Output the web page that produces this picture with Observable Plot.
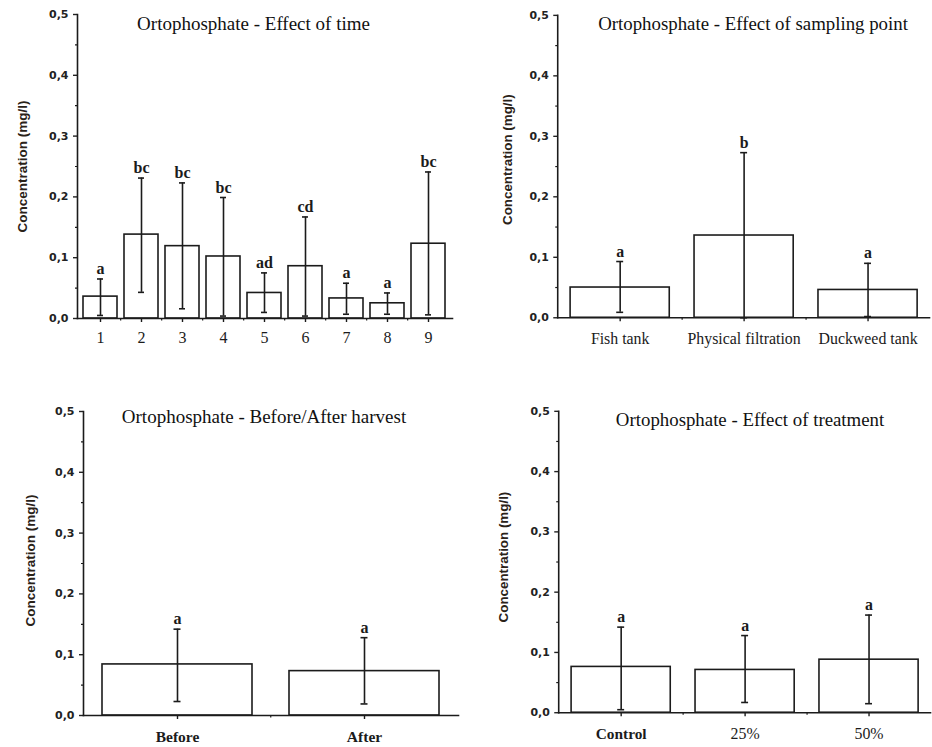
<!DOCTYPE html>
<html><head><meta charset="utf-8">
<script src="https://cdn.jsdelivr.net/npm/d3@7"></script>
<script src="https://cdn.jsdelivr.net/npm/@observablehq/plot@0.6"></script>
<style>
html,body{margin:0;padding:0;background:#fff;overflow:hidden;width:932px;height:747px;}
#root{position:relative;width:932px;height:747px;overflow:hidden;background:#fff;}
.panel{position:absolute;}
</style></head><body><div id="root"></div>
<script>
// ---- shared axis data ----
const yTicks = [0, 0.1, 0.2, 0.3, 0.4, 0.5];
const yMinorTicks = [0.05, 0.15, 0.25, 0.35, 0.45];
const yLabel = "Concentration (mg/l)";

// ---- Panel 1: effect of time ----
const timeTitle = "Ortophosphate - Effect of time";
const timeCats = ["1", "2", "3", "4", "5", "6", "7", "8", "9"];
const timeMeans = [0.036, 0.138, 0.119, 0.102, 0.042, 0.086, 0.033, 0.025, 0.123];
const timeLow = [0.005, 0.043, 0.016, 0.004, 0.010, 0.004, 0.007, 0.007, 0.006];
const timeHigh = [0.065, 0.231, 0.223, 0.199, 0.075, 0.167, 0.058, 0.042, 0.241];
const timeLetters = ["a", "bc", "bc", "bc", "ad", "cd", "a", "a", "bc"];

// ---- Panel 2: effect of sampling point ----
const pointTitle = "Ortophosphate - Effect of sampling point";
const pointCats = ["Fish tank", "Physical filtration", "Duckweed tank"];
const pointMeans = [0.050, 0.136, 0.046];
const pointLow = [0.009, 0.000, 0.002];
const pointHigh = [0.093, 0.273, 0.090];
const pointLetters = ["a", "b", "a"];

// ---- Panel 3: before / after harvest ----
const harvestTitle = "Ortophosphate - Before/After harvest";
const harvestCats = ["Before", "After"];
const harvestMeans = [0.084, 0.073];
const harvestLow = [0.023, 0.019];
const harvestHigh = [0.142, 0.128];
const harvestLetters = ["a", "a"];

// ---- Panel 4: effect of treatment ----
const treatTitle = "Ortophosphate - Effect of treatment";
const treatCats = ["Control", "25%", "50%"];
const treatMeans = [0.076, 0.071, 0.088];
const treatLow = [0.005, 0.017, 0.015];
const treatHigh = [0.142, 0.128, 0.162];
const treatLetters = ["a", "a", "a"];

const ink = "#1b1b1b";
const serif = "'Liberation Serif', 'Times New Roman', serif";
const sans = "'DejaVu Sans', Verdana, sans-serif";
const commaFmt = d => d3.format(".1f")(d).replace(".", ",");

function makePanel(p) {
  const rows = p.cats.map((c, i) => ({cat: c, mean: p.means[i], lo: p.low[i], hi: p.high[i], letter: p.letters[i]}));
  const range = p.width - p.marginLeft - p.marginRight;
  const step = range / p.cats.length;
  const bw = step * (1 - p.padInner);
  const capInset = (bw - 7) / 2;
  const boldCats = p.boldCats || [];
  const plainCats = p.cats.filter(c => !boldCats.includes(c));
  const xLabelOpts = {tickSize: 4, tickPadding: p.xPad, fontFamily: serif, fontSize: 16, label: null, color: ink, strokeWidth: 1.4};
  const svg = Plot.plot({
    width: p.width, height: p.height,
    marginLeft: p.marginLeft, marginRight: p.marginRight, marginTop: p.marginTop, marginBottom: p.marginBottom,
    style: {background: "transparent", overflow: "visible", color: ink},
    x: {domain: p.cats, paddingInner: p.padInner, paddingOuter: p.padInner / 2},
    y: {domain: [0, 0.5]},
    marks: [
      Plot.barY(rows, {x: "cat", y: "mean", fill: "white", stroke: ink, strokeWidth: 1.6}),
      Plot.ruleX(rows, {x: "cat", y1: "lo", y2: "hi", stroke: ink, strokeWidth: 1.6}),
      Plot.tickY(rows, {x: "cat", y: "lo", stroke: ink, strokeWidth: 1.6, insetLeft: capInset, insetRight: capInset}),
      Plot.tickY(rows, {x: "cat", y: "hi", stroke: ink, strokeWidth: 1.6, insetLeft: capInset, insetRight: capInset}),
      Plot.text(rows, {x: "cat", y: "hi", text: "letter", lineAnchor: "bottom", dy: -5, fontFamily: serif, fontWeight: "bold", fontSize: 16, fill: ink}),
      Plot.axisY(yTicks, {tickSize: 4, tickPadding: 5, tickFormat: commaFmt, fontFamily: sans, fontWeight: "bold", fontSize: 11, label: null, color: "#222", strokeWidth: 1.4}),
      Plot.axisY(yMinorTicks, {tickSize: 2, tickFormat: () => "", label: null, color: ink, strokeWidth: 1.2}),
      boldCats.length ? Plot.axisX(boldCats, {...xLabelOpts, fontWeight: "bold", fontSize: 15.5}) : null,
      plainCats.length ? Plot.axisX(plainCats, {...xLabelOpts, fontWeight: "normal"}) : null,
      Plot.axisX(p.cats.slice(1), {tickSize: 2.5, tickFormat: () => "", dx: -step / 2, label: null, color: ink, strokeWidth: 1.2}),
      Plot.frame({anchor: "left", stroke: ink, strokeWidth: 1.6}),
      Plot.frame({anchor: "bottom", stroke: ink, strokeWidth: 1.6}),
      Plot.text([p.title], {frameAnchor: "top", lineAnchor: "bottom", textAnchor: "middle", dx: p.titleDx, dy: p.titleDy, fontFamily: serif, fontSize: 19, fill: "#111"}),
      Plot.text([yLabel], {frameAnchor: "left", textAnchor: "middle", lineAnchor: "middle", rotate: -90, dx: p.yLabelDx, dy: p.yLabelDy, fontFamily: "'Liberation Sans', Arial, sans-serif", fontWeight: "bold", fontSize: 13.5, fill: "#2a2218"})
    ]
  });
  const div = document.createElement("div");
  div.className = "panel";
  div.style.left = p.left + "px";
  div.style.top = p.top + "px";
  div.appendChild(svg);
  document.getElementById("root").appendChild(div);
}

makePanel({
  cats: timeCats, means: timeMeans, low: timeLow, high: timeHigh, letters: timeLetters, title: timeTitle,
  left: 0, top: 0, width: 466, height: 350,
  marginLeft: 77, marginRight: 14, marginTop: 14, marginBottom: 32,
  padInner: 0.16, xPad: 9, titleDx: -11.5, titleDy: 15, yLabelDx: -55, yLabelDy: 0
});
makePanel({
  cats: pointCats, means: pointMeans, low: pointLow, high: pointHigh, letters: pointLetters, title: pointTitle,
  left: 466, top: 0, width: 470, height: 370,
  marginLeft: 92, marginRight: 3, marginTop: 15, marginBottom: 50,
  padInner: 0.2, xPad: 11, titleDx: 9.5, titleDy: 15, yLabelDx: -50, yLabelDy: -7
});
makePanel({
  cats: harvestCats, means: harvestMeans, low: harvestLow, high: harvestHigh, letters: harvestLetters, title: harvestTitle,
  boldCats: ["Before", "After"],
  left: 0, top: 390, width: 466, height: 357,
  marginLeft: 83, marginRight: 8, marginTop: 21, marginBottom: 32,
  padInner: 0.2, xPad: 11.5, titleDx: -7, titleDy: 11.5, yLabelDx: -53, yLabelDy: -3
});
makePanel({
  cats: treatCats, means: treatMeans, low: treatLow, high: treatHigh, letters: treatLetters, title: treatTitle,
  boldCats: ["Control"],
  left: 466, top: 390, width: 470, height: 357,
  marginLeft: 93, marginRight: 2, marginTop: 21, marginBottom: 32,
  padInner: 0.2, xPad: 11, titleDx: 5.5, titleDy: 14.5, yLabelDx: -55, yLabelDy: -5
});
</script>
</body></html>
